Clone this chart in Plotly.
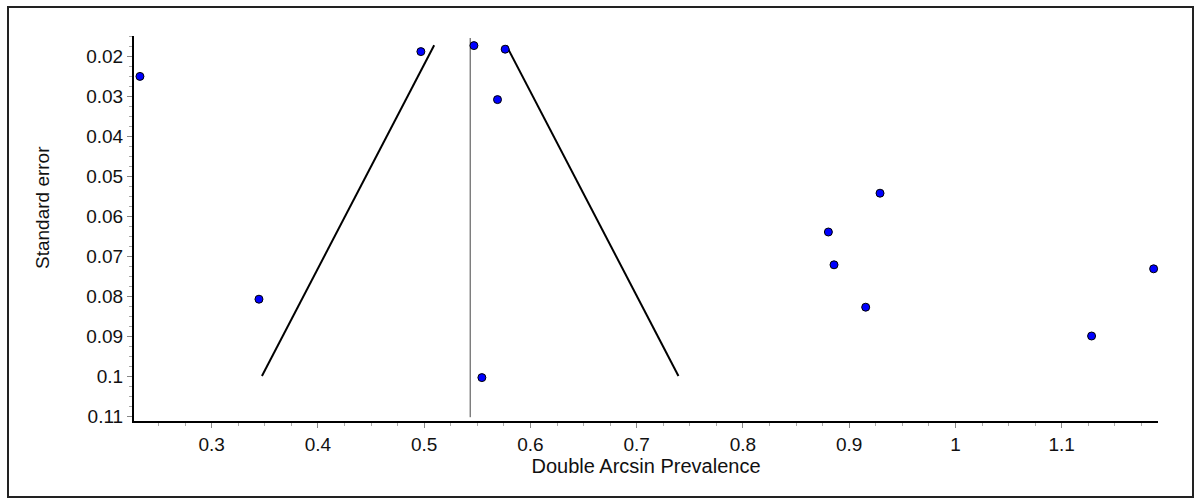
import plotly.graph_objects as go

# Study-level estimates (double arcsine transformed prevalence) and their standard errors
effect = [0.2325, 0.4969, 0.5468, 0.5762, 0.5690, 0.5543, 0.3445,
          0.9290, 0.8804, 0.8857, 0.9155, 1.1865, 1.1281]
std_err = [0.0251, 0.0189, 0.0174, 0.0183, 0.0309, 0.1004, 0.0808,
           0.0543, 0.0640, 0.0722, 0.0828, 0.0732, 0.0900]

# Pooled estimate and the standard-error span of the pseudo-confidence funnel
pooled = 0.5433
funnel_se = [0.0173, 0.1000]
z_crit = 1.96
pooled_line_se = [0.0155, 0.1103]

x_ticks = [0.3, 0.4, 0.5, 0.6, 0.7, 0.8, 0.9, 1.0, 1.1]
x_tick_text = ["0.3", "0.4", "0.5", "0.6", "0.7", "0.8", "0.9", "1", "1.1"]
y_ticks = [0.02, 0.03, 0.04, 0.05, 0.06, 0.07, 0.08, 0.09, 0.10, 0.11]
y_tick_text = ["0.02", "0.03", "0.04", "0.05", "0.06", "0.07", "0.08", "0.09", "0.1", "0.11"]

funnel_left = [pooled - z_crit * s for s in funnel_se]
funnel_right = [pooled + z_crit * s for s in funnel_se]

fig = go.Figure()

fig.add_trace(go.Scatter(
    x=[pooled, pooled], y=pooled_line_se, mode="lines",
    line=dict(color="#444444", width=1), hoverinfo="skip", showlegend=False))
fig.add_trace(go.Scatter(
    x=funnel_left, y=funnel_se, mode="lines",
    line=dict(color="black", width=2), showlegend=False))
fig.add_trace(go.Scatter(
    x=funnel_right, y=funnel_se, mode="lines",
    line=dict(color="black", width=2), showlegend=False))
fig.add_trace(go.Scatter(
    x=effect, y=std_err, mode="markers",
    marker=dict(color="#0000FF", size=8, line=dict(color="black", width=1)),
    showlegend=False, cliponaxis=False))

# plot area spans x 134..1158 px and y 36..421 px
W, H = 1195, 499
L, R, T, B = 134, 37, 36, 78
pw, ph = W - L - R, H - T - B


def px_to_paper_x(px):
    return (px - L) / pw


def px_to_paper_y(py):
    return (H - B - py) / ph


# outer frame around the whole figure
fig.add_shape(type="rect", xref="paper", yref="paper",
              x0=px_to_paper_x(8), x1=px_to_paper_x(1193),
              y0=px_to_paper_y(497), y1=px_to_paper_y(7),
              line=dict(color="#222222", width=2), fillcolor="rgba(0,0,0,0)",
              layer="below")

tick_font = dict(family="Liberation Sans, Arial, sans-serif", size=19, color="#111111")
x_title_font = dict(family="Liberation Sans, Arial, sans-serif", size=20, color="#111111")
y_title_font = dict(family="Liberation Sans, Arial, sans-serif", size=19, color="#111111")

# y-axis title placed as a rotated annotation
fig.add_annotation(text="Standard error", xref="paper", yref="paper",
                   x=px_to_paper_x(42), y=px_to_paper_y(208),
                   xanchor="center", yanchor="middle", textangle=-90,
                   showarrow=False, font=y_title_font)

fig.update_layout(
    width=W, height=H,
    margin=dict(l=L, r=R, t=T, b=B, pad=0),
    paper_bgcolor="white", plot_bgcolor="white",
    xaxis=dict(
        range=[0.2269, 1.1906], tickvals=x_ticks, ticktext=x_tick_text,
        showgrid=False, zeroline=False, showline=True, linecolor="black", linewidth=2,
        ticks="outside", ticklen=5, tickcolor="#888888", tickwidth=1,
        minor=dict(dtick=0.025, tick0=0, ticks="outside", ticklen=3, tickcolor="#aaaaaa", tickwidth=1),
        tickfont=tick_font,
        title=dict(text="Double Arcsin Prevalence", font=x_title_font, standoff=3),
    ),
    yaxis=dict(
        range=[0.11125, 0.015], tickvals=y_ticks, ticktext=y_tick_text,
        showgrid=False, zeroline=False, showline=True, linecolor="black", linewidth=2,
        ticks="outside", ticklen=5, tickcolor="#888888", tickwidth=1,
        minor=dict(dtick=0.0025, tick0=0, ticks="outside", ticklen=3, tickcolor="#aaaaaa", tickwidth=1),
        tickfont=tick_font,
    ),
)

fig.write_html("out.html")
